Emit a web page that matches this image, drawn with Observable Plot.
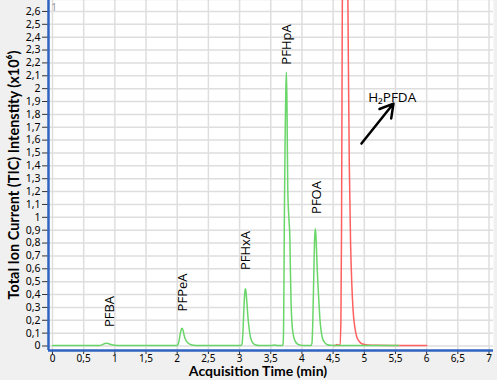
<!DOCTYPE html>
<html>
<head>
<meta charset="utf-8">
<script src="https://cdn.jsdelivr.net/npm/d3@7"></script>
<script src="https://cdn.jsdelivr.net/npm/@observablehq/plot@0.6"></script>
<style>
  html, body { margin: 0; padding: 0; background: #f0f0f0; }
  #chart { width: 497px; height: 380px; }
</style>
</head>
<body>
<div id="chart"></div>
<script>
// ---- Data ----
// Green trace (PFBA … PFOA): acquisition time (min), intensity (x10^6)
const greenTime = [0, 0.3, 0.6, 0.75, 0.8, 0.84, 0.87, 0.9, 0.95, 1.0, 1.1, 1.5, 1.9, 1.99, 2.01, 2.03, 2.05, 2.07, 2.08, 2.095, 2.11, 2.13, 2.16, 2.2, 2.26, 2.35, 2.7, 3.0, 3.02, 3.04, 3.055, 3.07, 3.085, 3.095, 3.105, 3.12, 3.135, 3.15, 3.17, 3.19, 3.22, 3.26, 3.32, 3.5, 3.57, 3.6, 3.68, 3.695, 3.705, 3.712, 3.72, 3.73, 3.742, 3.752, 3.762, 3.773, 3.79, 3.806, 3.815, 3.825, 3.84, 3.86, 3.89, 3.93, 3.98, 4.05, 4.14, 4.16, 4.175, 4.19, 4.205, 4.217, 4.23, 4.245, 4.26, 4.275, 4.29, 4.31, 4.33, 4.36, 4.4, 4.46, 4.6, 5.0, 5.55];
const greenValue = [0.003, 0.003, 0.003, 0.003, 0.01, 0.019, 0.021, 0.018, 0.01, 0.006, 0.004, 0.003, 0.003, 0.003, 0.01, 0.04, 0.1, 0.135, 0.138, 0.12, 0.085, 0.055, 0.03, 0.014, 0.006, 0.004, 0.003, 0.003, 0.003, 0.015, 0.12, 0.3, 0.42, 0.444, 0.41, 0.32, 0.22, 0.15, 0.08, 0.045, 0.02, 0.008, 0.004, 0.003, 0.008, 0.003, 0.003, 0.01, 0.1, 0.5, 1.1, 1.6, 2.0, 2.128, 1.8, 1.22, 1.0, 0.85, 0.6, 0.35, 0.18, 0.09, 0.04, 0.015, 0.006, 0.003, 0.003, 0.02, 0.2, 0.55, 0.85, 0.911, 0.8, 0.6, 0.45, 0.32, 0.2, 0.11, 0.06, 0.03, 0.012, 0.005, 0.003, 0.003, 0.004];
// Red trace (H2PFDA), apex off scale
const redTime = [4.51, 4.54, 4.56, 4.58, 4.61, 4.625, 4.635, 4.645, 4.655, 4.67, 4.69, 4.71, 4.73, 4.745, 4.76, 4.78, 4.8, 4.82, 4.85, 4.88, 4.92, 4.97, 5.05, 5.2, 5.5, 6.0];
const redValue = [0.003, 0.005, 0.012, 0.006, 0.01, 0.2, 0.9, 2.3, 3.5, 4.3, 4.6, 4.2, 3.1, 2.2, 1.4, 0.8, 0.48, 0.28, 0.14, 0.07, 0.035, 0.015, 0.008, 0.005, 0.004, 0.003];

// Peak labels: compound name, retention time, label centre height (x10^6)
const peakNames = ["PFBA", "PFPeA", "PFHxA", "PFHpA", "PFOA"];
const peakTimes = [0.914, 2.096, 3.095, 3.752, 4.245];
const peakLabelY = [0.268, 0.416, 0.742, 2.343, 1.154];

// H2PFDA annotation
const h2Name = "H₂PFDA";
const h2Label = {t: 5.447, y: 1.933};
const h2Arrow = {t1: 4.955, y1: 1.573, t2: 5.468, y2: 1.884};

// Axis ticks and titles
const xTicks = [0, 0.5, 1, 1.5, 2, 2.5, 3, 3.5, 4, 4.5, 5, 5.5, 6, 6.5, 7];
const yTicks = d3.range(0, 27).map(i => i / 10);
const xTitle = "Acquisition Time (min)";
const yTitle = "Total Ion Current (TIC) Intenstity (x10⁶)";

// ---- Build tables ----
const green = greenTime.map((t, i) => ({t, v: greenValue[i]}));
const red = redTime.map((t, i) => ({t, v: redValue[i]}));
const peaks = peakNames.map((name, i) => ({name, t: peakTimes[i], y: peakLabelY[i]}));

const xDomain = [-0.064, 7.072];
const yDomain = [-0.035, 2.685];
const fmt = d => String(+d.toFixed(1)).replace(".", ",");
const blue = "#2f63c0";

const plot = Plot.plot({
  width: 497,
  height: 380,
  marginLeft: 48,
  marginRight: 4,
  marginTop: 0,
  marginBottom: 30,
  style: {background: "#f0f0f0", fontFamily: "'Noto Sans', sans-serif", overflow: "visible"},
  x: {domain: xDomain, axis: null},
  y: {domain: yDomain, axis: null},
  marks: [
    Plot.frame({fill: "white", stroke: null}),
    Plot.gridX(xTicks, {stroke: "#dedede", strokeOpacity: 1, strokeWidth: 1.5}),
    Plot.gridY(yTicks, {stroke: "#dedede", strokeOpacity: 1, strokeWidth: 1.5}),
    Plot.axisX({ticks: xTicks, tickFormat: fmt, tickSize: 4, tickPadding: 0, fontSize: 10, label: null, stroke: "#333"}),
    Plot.axisY({ticks: yTicks, tickFormat: fmt, tickSize: 6, tickPadding: 2, fontSize: 10.5, label: null, stroke: "#333"}),
    Plot.line(red, {x: "t", y: "v", stroke: "#ff5f5f", strokeWidth: 1.5, curve: "monotone-x", clip: true}),
    Plot.line(green, {x: "t", y: "v", stroke: "#6ad66a", strokeWidth: 1.5, curve: "monotone-x", clip: true}),
    Plot.text(peaks, {x: "t", y: "y", text: "name", rotate: -90, fontSize: 13, fontFamily: "'Open Sans', sans-serif", fill: "black"}),
    Plot.text([h2Label], {x: "t", y: "y", text: () => h2Name, fontSize: 13.5, fontFamily: "'Open Sans', sans-serif", fill: "black"}),
    Plot.arrow([h2Arrow], {x1: "t1", y1: "y1", x2: "t2", y2: "y2", stroke: "black", strokeWidth: 2.5, headLength: 9}),
    Plot.ruleX([xDomain[0]], {stroke: blue, strokeWidth: 2.5}),
    Plot.ruleY([yDomain[0]], {stroke: blue, strokeWidth: 2.5})
  ]
});

const svg = d3.select(plot);
svg.append("text")
  .attr("x", 258).attr("y", 376)
  .attr("text-anchor", "middle")
  .style("font-family", "Lato, sans-serif").style("font-weight", "bold").style("font-size", "14px")
  .attr("fill", "black")
  .text(xTitle);
svg.append("text")
  .attr("transform", "translate(19,175) rotate(-90)")
  .attr("text-anchor", "middle")
  .style("font-family", "Lato, sans-serif").style("font-weight", "bold").style("font-size", "14.5px")
  .attr("fill", "black")
  .text(yTitle);
svg.append("text")
  .attr("x", 54).attr("y", 11)
  .style("font-family", "'Noto Sans', sans-serif").style("font-size", "10px")
  .attr("fill", "#999")
  .text("1");

document.getElementById("chart").appendChild(plot);
</script>
</body>
</html>
